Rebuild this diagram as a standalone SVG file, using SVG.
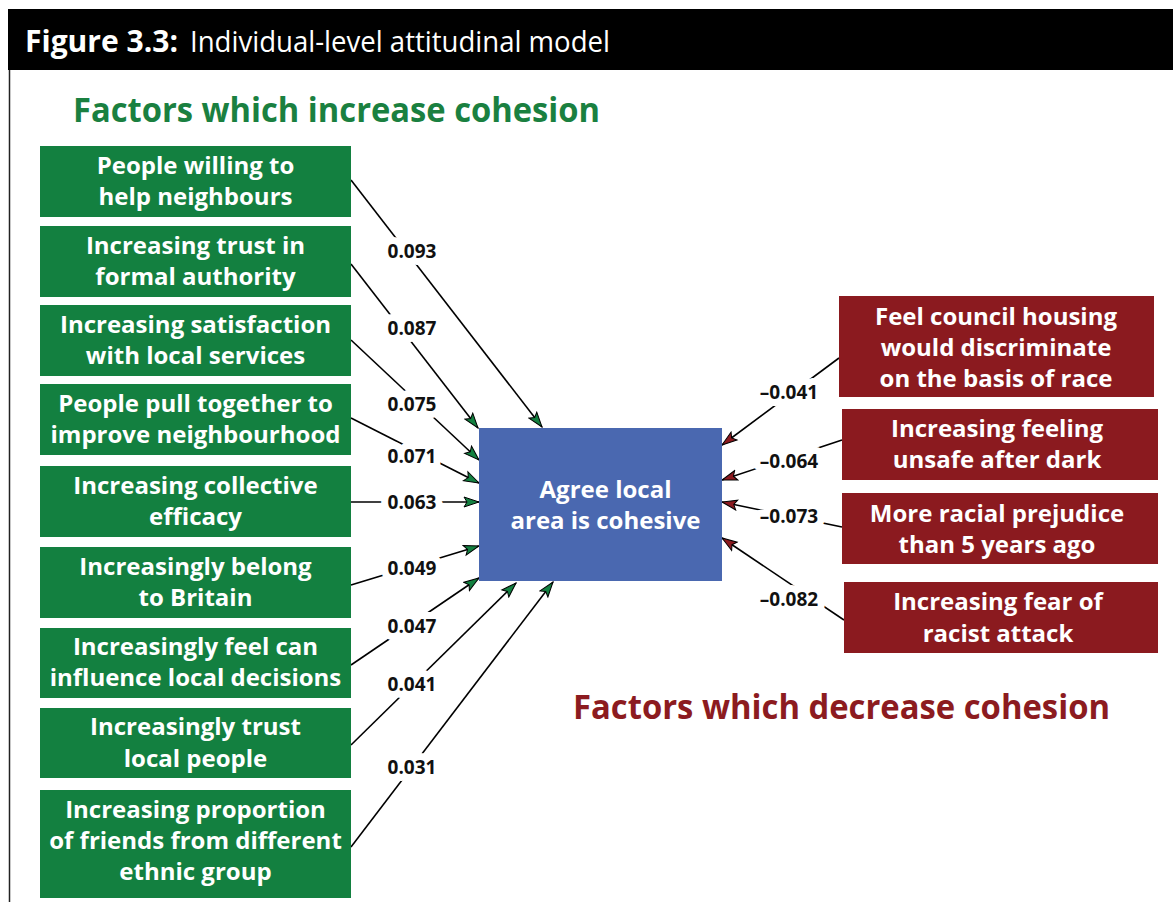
<svg xmlns="http://www.w3.org/2000/svg" width="1173" height="902" viewBox="0 0 1173 902">
<style>
.t{font-family:"Open Sans","Liberation Sans",sans-serif}
.bx{fill:#138040}
.rb{fill:#8b1a1f}
.bt{font-family:"Open Sans","Liberation Sans",sans-serif;font-weight:700;font-size:24px;fill:#fff;text-anchor:middle}
.lb{font-family:"Open Sans","Liberation Sans",sans-serif;font-weight:700;font-size:19px;fill:#111;text-anchor:middle;stroke:#fff;stroke-width:14px;paint-order:stroke;stroke-linejoin:round}
.ln{stroke:#000;stroke-width:1.6;fill:none}
.g{marker-end:url(#ag)}
.r{marker-end:url(#ar)}
</style>
<defs>
<marker id="ag" markerUnits="userSpaceOnUse" markerWidth="18" markerHeight="14" refX="16" refY="6" orient="auto" viewBox="0 0 18 12">
<path d="M1,1 L16,6 L1,11 L4,6 z" fill="#138040" stroke="#000" stroke-width="1"/>
</marker>
<marker id="ar" markerUnits="userSpaceOnUse" markerWidth="18" markerHeight="14" refX="16" refY="6" orient="auto" viewBox="0 0 18 12">
<path d="M1,1 L16,6 L1,11 L4,6 z" fill="#8b1a1f" stroke="#000" stroke-width="1"/>
</marker>
</defs>
<rect width="1173" height="902" fill="#fff"/>
<rect x="8" y="9" width="1165" height="61" fill="#000"/>
<line x1="9.5" y1="70" x2="9.5" y2="902" stroke="#222" stroke-width="1.5"/>
<text class="t" x="25" y="52" font-size="31" font-weight="700" fill="#fff" textLength="153" lengthAdjust="spacingAndGlyphs">Figure 3.3:</text>
<text class="t" x="190" y="52" font-size="30" font-weight="400" fill="#fff" textLength="420" lengthAdjust="spacingAndGlyphs">Individual-level attitudinal model</text>
<text class="t" x="73" y="122" font-size="34" font-weight="700" fill="#1a8040" textLength="527" lengthAdjust="spacingAndGlyphs">Factors which increase cohesion</text>
<text class="t" x="573" y="719" font-size="34" font-weight="700" fill="#8c1b20" textLength="537" lengthAdjust="spacingAndGlyphs">Factors which decrease cohesion</text>

<g id="connectors">
<line class="ln g" x1="351" y1="180" x2="542" y2="427"/>
<line class="ln g" x1="351" y1="264" x2="478" y2="428"/>
<line class="ln g" x1="351" y1="340" x2="479" y2="460"/>
<line class="ln g" x1="351" y1="418" x2="479" y2="483"/>
<line class="ln g" x1="351" y1="502" x2="479" y2="502"/>
<line class="ln g" x1="351" y1="585" x2="479" y2="546"/>
<line class="ln g" x1="351" y1="665" x2="479" y2="578"/>
<line class="ln g" x1="351" y1="745" x2="516" y2="583"/>
<line class="ln g" x1="351" y1="847" x2="553" y2="582"/>
<line class="ln r" x1="839" y1="358" x2="722" y2="445"/>
<line class="ln r" x1="842" y1="440" x2="722" y2="480"/>
<line class="ln r" x1="842" y1="527" x2="722" y2="502"/>
<line class="ln r" x1="844" y1="620" x2="722" y2="538"/>
<text class="lb" x="412" y="258">0.093</text>
<text class="lb" x="412" y="335">0.087</text>
<text class="lb" x="412" y="411">0.075</text>
<text class="lb" x="412" y="463">0.071</text>
<text class="lb" x="412" y="509">0.063</text>
<text class="lb" x="412" y="575">0.049</text>
<text class="lb" x="412" y="633">0.047</text>
<text class="lb" x="412" y="691">0.041</text>
<text class="lb" x="412" y="774">0.031</text>
<text class="lb" x="789" y="399">–0.041</text>
<text class="lb" x="789" y="468">–0.064</text>
<text class="lb" x="789" y="523">–0.073</text>
<text class="lb" x="789" y="606">–0.082</text>
</g>

<g id="n1"><rect class="bx" x="40" y="146" width="311" height="71"/><text class="bt" x="195.5" y="174">People willing to</text><text class="bt" x="195.5" y="205">help neighbours</text></g>
<g id="n2"><rect class="bx" x="40" y="226" width="311" height="71"/><text class="bt" x="195.5" y="254">Increasing trust in</text><text class="bt" x="195.5" y="285">formal authority</text></g>
<g id="n3"><rect class="bx" x="40" y="305" width="311" height="71"/><text class="bt" x="195.5" y="333">Increasing satisfaction</text><text class="bt" x="195.5" y="364">with local services</text></g>
<g id="n4"><rect class="bx" x="40" y="384" width="311" height="71"/><text class="bt" x="195.5" y="412">People pull together to</text><text class="bt" x="195.5" y="443">improve neighbourhood</text></g>
<g id="n5"><rect class="bx" x="40" y="466" width="311" height="71"/><text class="bt" x="195.5" y="494">Increasing collective</text><text class="bt" x="195.5" y="525">efficacy</text></g>
<g id="n6"><rect class="bx" x="40" y="547" width="311" height="71"/><text class="bt" x="195.5" y="575">Increasingly belong</text><text class="bt" x="195.5" y="606">to Britain</text></g>
<g id="n7"><rect class="bx" x="40" y="628" width="311" height="70"/><text class="bt" x="195.5" y="655">Increasingly feel can</text><text class="bt" x="195.5" y="686">influence local decisions</text></g>
<g id="n8"><rect class="bx" x="40" y="708" width="311" height="70"/><text class="bt" x="195.5" y="735">Increasingly trust</text><text class="bt" x="195.5" y="767">local people</text></g>
<g id="n9"><rect class="bx" x="40" y="790" width="311" height="108"/><text class="bt" x="195.5" y="818">Increasing proportion</text><text class="bt" x="195.5" y="849">of friends from different</text><text class="bt" x="195.5" y="880">ethnic group</text></g>

<g id="center"><rect x="479" y="428" width="243" height="153" fill="#4a68b0"/><text class="bt" x="605.5" y="498">Agree local</text><text class="bt" x="605.5" y="529">area is cohesive</text></g>

<g id="r1"><rect class="rb" x="839" y="296" width="315" height="101"/><text class="bt" x="996" y="325">Feel council housing</text><text class="bt" x="996" y="356">would discriminate</text><text class="bt" x="996" y="387">on the basis of race</text></g>
<g id="r2"><rect class="rb" x="842" y="409" width="316" height="71"/><text class="bt" x="997" y="437">Increasing feeling</text><text class="bt" x="997" y="468">unsafe after dark</text></g>
<g id="r3"><rect class="rb" x="842" y="493" width="316" height="71"/><text class="bt" x="997" y="522">More racial prejudice</text><text class="bt" x="997" y="553">than 5 years ago</text></g>
<g id="r4"><rect class="rb" x="844" y="582" width="314" height="71"/><text class="bt" x="998" y="610">Increasing fear of</text><text class="bt" x="998" y="642">racist attack</text></g>
</svg>
